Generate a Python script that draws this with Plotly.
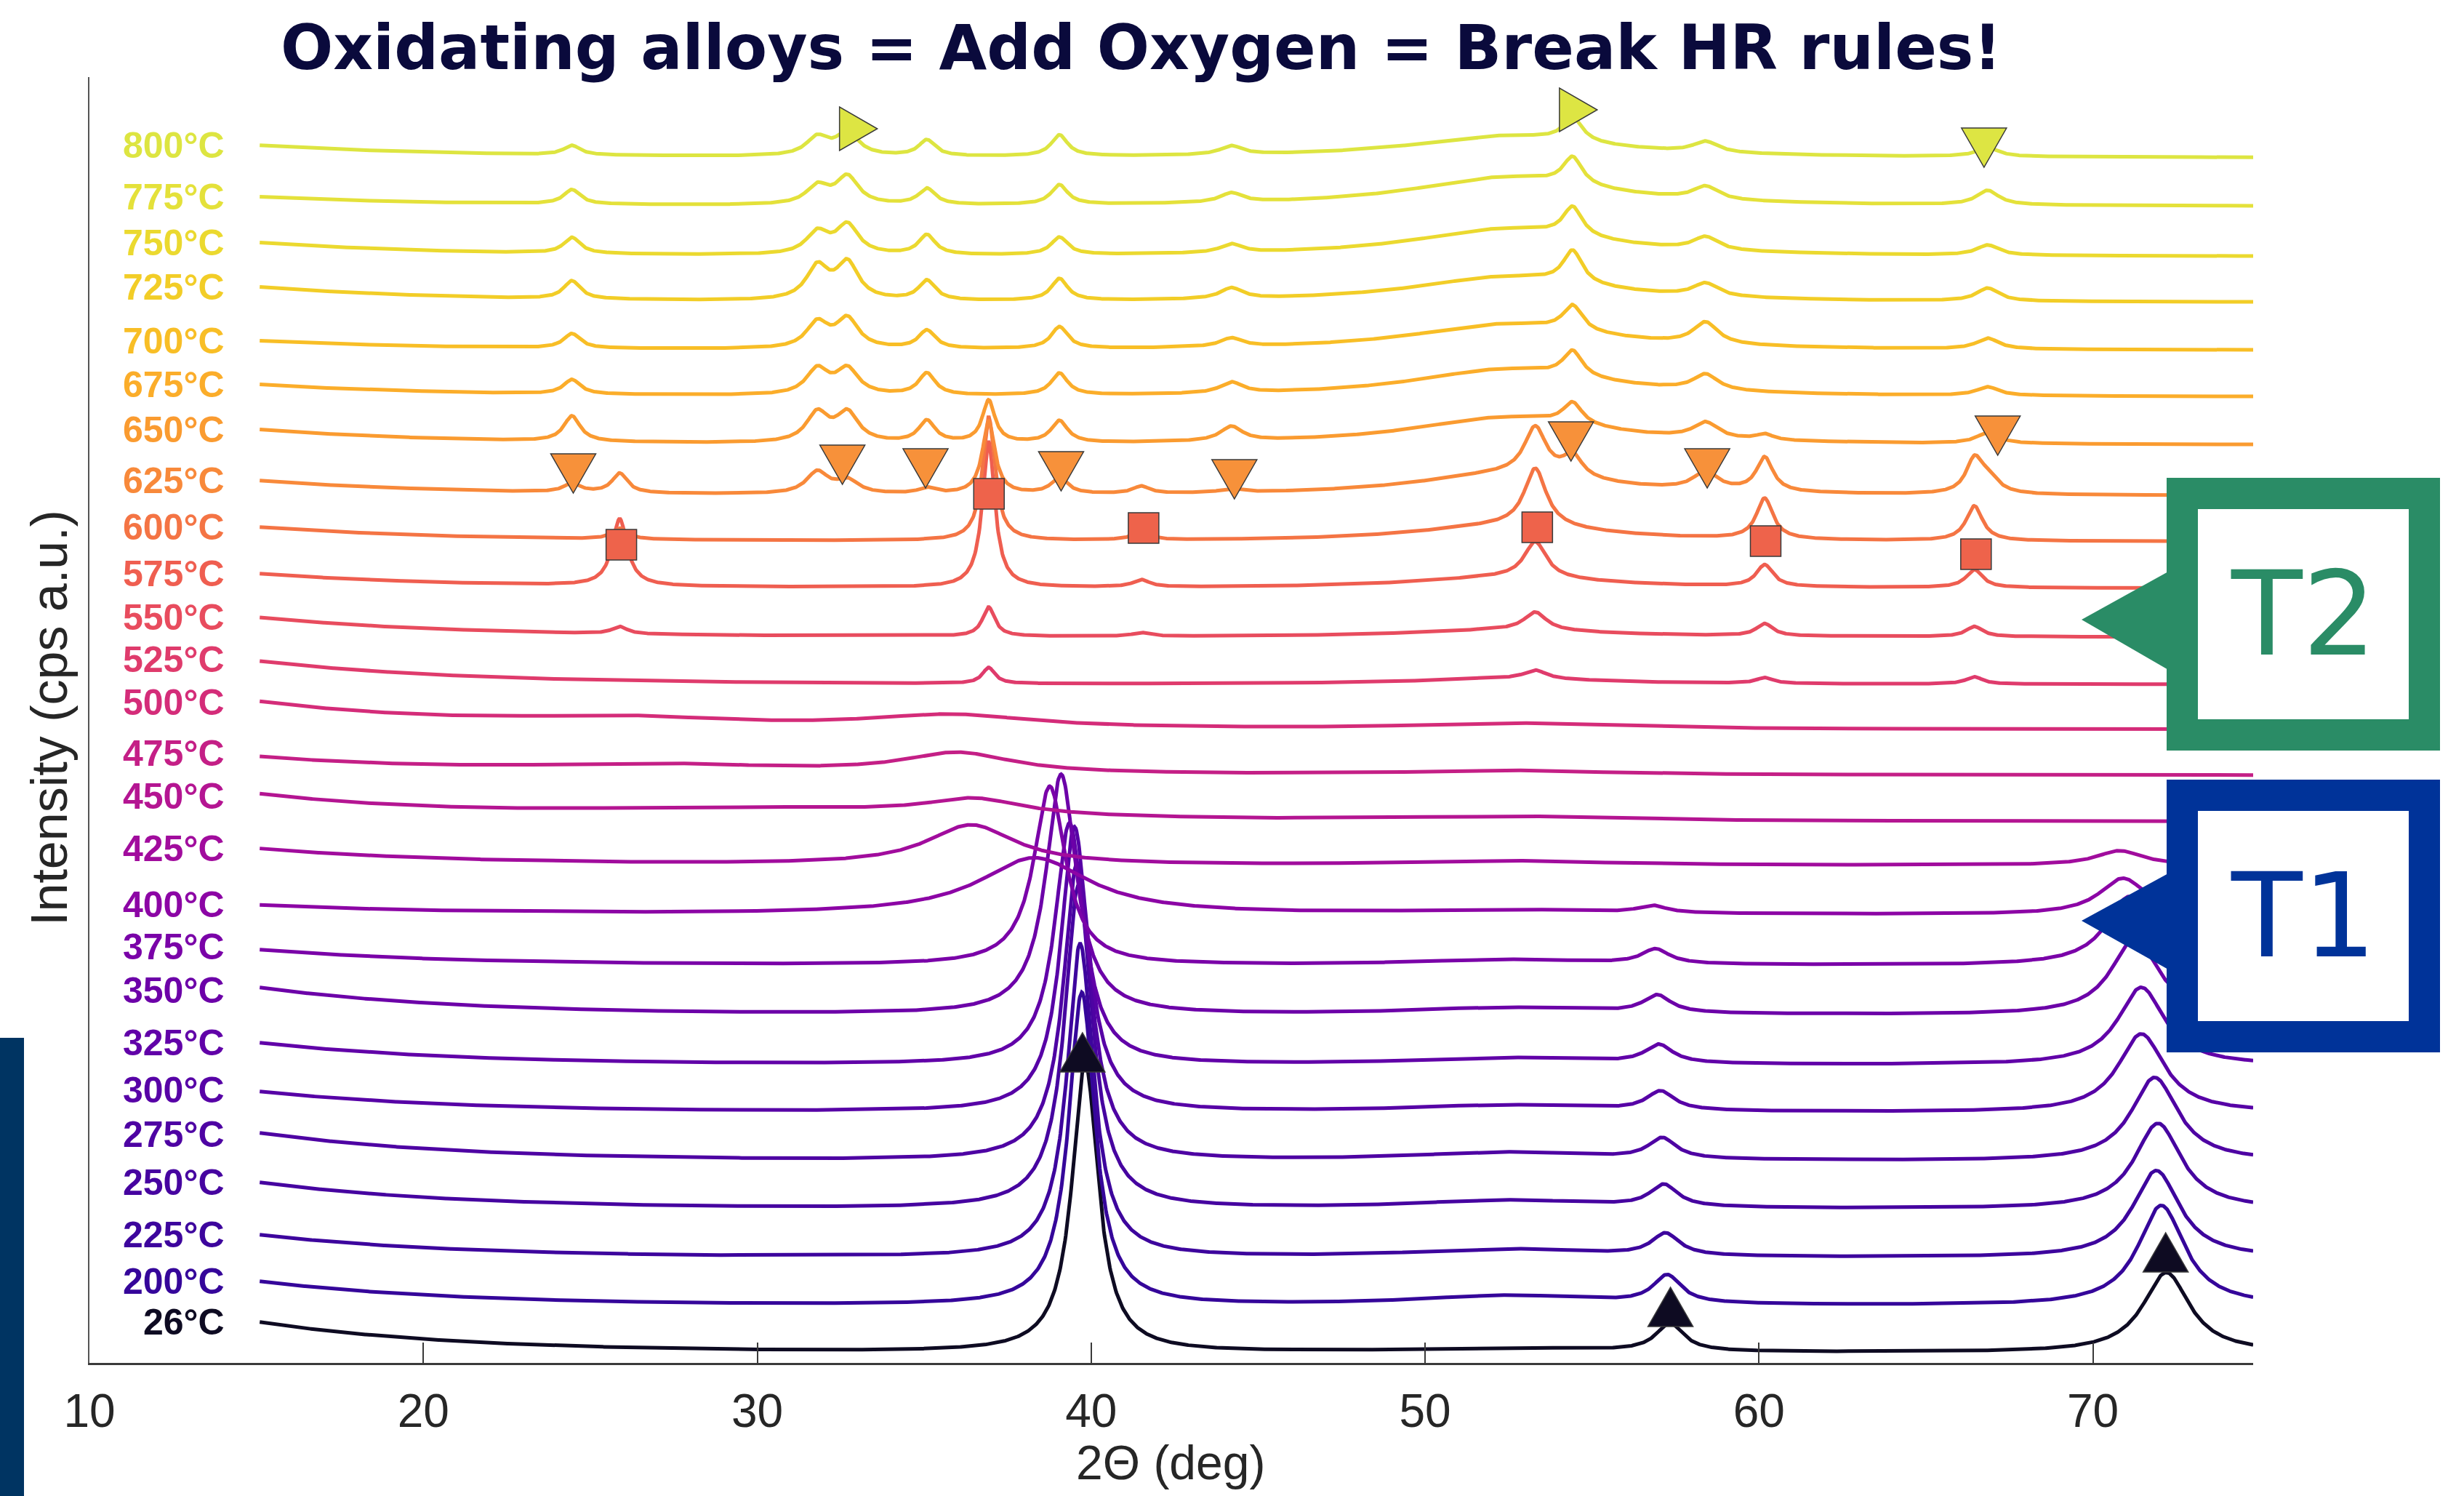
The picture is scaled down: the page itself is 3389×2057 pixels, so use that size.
import numpy as np
import plotly.graph_objects as go

# ------------------------------------------------------------------ data
TEMPS = [26, 200, 225, 250, 275, 300, 325, 350, 375, 400, 425, 450, 475,
         500, 525, 550, 575, 600, 625, 650, 675, 700, 725, 750, 775, 800]
COLORS = ['#0e0b22', '#35069a', '#3d059d', '#4604a0', '#4e03a3', '#5702a6',
          '#6101a8', '#6c01a8', '#7a02a8', '#8c05a5', '#a10c9d', '#b41592',
          '#c41f86', '#d42c79', '#df3b6c', '#e84c5e', '#ef5e50', '#f47444',
          '#f8893a', '#fa9b30', '#fbad2a', '#f8be26', '#f2cd27', '#ebd92f',
          '#e4e13a', '#dde541']
# intensity (a.u.) at the low-angle start of each scan, and the flat background level
START = [56, 112, 176, 248, 316, 373, 440, 516, 568, 629, 707, 779, 832,
         908, 965, 1025, 1085, 1149, 1213, 1283, 1345, 1405, 1479, 1540, 1603, 1674]
BASE = [14, 78, 144, 211, 277, 344, 409, 478, 546, 616, 684, 744, 808,
        871, 933, 998, 1065, 1129, 1192, 1262, 1328, 1392, 1458, 1521, 1590, 1657]
# small vertical nudges of the temperature labels (pixels) where two labels crowd
LABEL_NUDGE = [0, 0, 0, 0, -2, 2, 0, -4, 4, 0, 0, -4, 4,
               -2, 2, 0, 0, 0, 0, 0, 0, 0, 0, 0, 0, 0]
# broad diffuse hump near 52.5 deg
HUMP_HGT = [6, 14, 12, 12, 12, 10, 10, 10, 8, 6, 6, 6, 6,
            8, 8, 10, 15, 22, 30, 38, 38, 36, 35, 38, 40, 30]

# T1 (metallic) reflections
M_TEMPS = [26, 200, 225, 250, 275, 300, 325, 350, 375, 400, 425]
M1_POS = [39.82, 39.72, 39.67, 39.62, 39.58, 39.50, 39.35, 39.10, 38.76, 38.90, 38.80]
M1_HGT = [398, 430, 431, 444, 409, 392, 332, 330, 246, 0, 0]
M1_FWHM = [0.95, 0.95, 0.95, 1.0, 1.0, 1.0, 1.05, 1.1, 1.15, 1.0, 1.0]
M2_POS = [57.33, 57.25, 57.20, 57.15, 57.10, 57.05, 57.00, 56.95, 56.90, 56.80, 56.80]
M2_HGT = [38, 38, 30, 30, 28, 26, 25, 24, 20, 10, 0]
M3_POS = [72.20, 72.05, 71.90, 71.95, 71.85, 71.45, 71.45, 71.25, 71.10, 70.90, 70.80]
M3_HGT = [110, 138, 120, 118, 115, 108, 107, 105, 95, 50, 20]

# broad (disordered) features in the transition range
AM_TEMP = [400, 425, 450, 450, 475, 475, 500, 500]
AM_POS = [38.3, 36.4, 36.5, 30.0, 36.0, 27.0, 35.8, 26.0]
AM_HGT = [78, 55, 22, 16, 28, 12, 18, 12]
AM_FWHM = [4.0, 3.2, 3.5, 16.0, 4.0, 10.0, 6.0, 8.0]

# T2 oxide A (squares)
OA_TEMPS = [525, 550, 575, 600, 625, 650]
OA_POS = [25.88, 36.93, 41.50, 53.30, 60.17, 66.45]
OA_FWHM = [0.55, 0.45, 0.6, 0.8, 0.6, 0.6]
OA_HGT = [[0, 22, 0, 12, 8, 10],
          [10, 40, 5, 25, 17, 14],
          [92, 200, 10, 50, 30, 25],
          [15, 170, 12, 80, 56, 48],
          [27, 100, 10, 65, 47, 44],
          [0, 58, 0, 0, 8, 0]]

# T2 oxide B (triangles)
OB_TEMPS = [625, 650, 675, 700, 725, 750, 775, 800]
OB_POS = [24.45, 31.80, 32.70, 35.08, 39.05, 44.20, 54.42, 58.40, 66.85]
OB_FWHM = [0.6, 0.8, 0.8, 0.6, 0.6, 0.8, 0.7, 0.9, 0.8]
OB_HGT = [[12, 30, 18, 8, 22, 5, 30, 25, 20],
          [35, 40, 40, 30, 30, 20, 30, 22, 15],
          [20, 35, 35, 30, 30, 15, 35, 22, 12],
          [20, 35, 40, 25, 30, 12, 35, 30, 15],
          [25, 45, 50, 27, 30, 15, 45, 18, 18],
          [22, 30, 40, 27, 24, 12, 40, 18, 14],
          [20, 25, 38, 22, 27, 13, 38, 18, 20],
          [13, 25, 32, 22, 29, 12, 33, 15, 12]]

# phase markers (2theta, intensity)
MK_BLACK_X = [39.74, 57.35, 72.18]
MK_BLACK_Y = [427, 77, 152]
MK_ORANGE_X = [24.49, 32.55, 35.04, 39.10, 44.29, 54.37, 58.45, 67.15]
MK_ORANGE_Y = [1223, 1235, 1230, 1226, 1215, 1267, 1230, 1275]
MK_SQUARE_X = [25.93, 36.94, 41.57, 53.36, 60.20, 66.50]
MK_SQUARE_Y = [1125, 1195, 1148, 1149, 1130, 1112]
MK_YEL_RIGHT_X = [33.03, 54.59]
MK_YEL_RIGHT_Y = [1697, 1723]
MK_YEL_DOWN_X = [66.74]
MK_YEL_DOWN_Y = [1671]

X_TICKS = [10, 20, 30, 40, 50, 60, 70]
TITLE = "Oxidating alloys = Add Oxygen = Break HR rules!"

# ------------------------------------------------------------------ build
X = np.round(np.arange(15.1, 74.8 + 1e-9, 0.02), 3)
TAU = 6.0


def lor(x, c, h, w):
    return h / (1.0 + ((x - c) / (w / 2.0)) ** 2)


fig = go.Figure()
annotations = []
for i, t in enumerate(TEMPS):
    y = BASE[i] + (START[i] - BASE[i]) * np.exp(-(X - X[0]) / TAU)
    y = y + lor(X, 52.5, HUMP_HGT[i], 7.0)
    if t in M_TEMPS:
        k = M_TEMPS.index(t)
        y = y + lor(X, M1_POS[k], M1_HGT[k], M1_FWHM[k])
        y = y + lor(X, M2_POS[k], M2_HGT[k], 1.0)
        y = y + lor(X, M3_POS[k], M3_HGT[k], 1.7)
    for tt, p, h, w in zip(AM_TEMP, AM_POS, AM_HGT, AM_FWHM):
        if tt == t:
            y = y + lor(X, p, h, w)
    if t in OA_TEMPS:
        k = OA_TEMPS.index(t)
        for p, h, w in zip(OA_POS, OA_HGT[k], OA_FWHM):
            y = y + lor(X, p, h, w)
    if t in OB_TEMPS:
        k = OB_TEMPS.index(t)
        for p, h, w in zip(OB_POS, OB_HGT[k], OB_FWHM):
            y = y + lor(X, p, h, w)
    fig.add_trace(go.Scatter(x=X, y=y, mode='lines', line=dict(color=COLORS[i], width=5),
                             hoverinfo='skip', showlegend=False))
    annotations.append(dict(x=float(X[0]), y=float(y[0]), xref='x', yref='y',
                            text='<b>%d°C</b>' % t, showarrow=False, xanchor='right',
                            yanchor='middle', xshift=-46, yshift=LABEL_NUDGE[i],
                            font=dict(family='Liberation Sans, Arial', size=50, color=COLORS[i])))

# ---- marker shapes (anchored to data, sized in pixels; y up)
shapes = []


def poly(pts):
    return 'M' + 'L'.join('%g,%g' % p for p in pts) + 'Z'


def add_marker(xs, ys, pts, fill):
    for xv, yv in zip(xs, ys):
        shapes.append(dict(type='path', xref='x', yref='y', xsizemode='pixel', ysizemode='pixel',
                           xanchor=xv, yanchor=yv, path=poly(pts), fillcolor=fill,
                           line=dict(color='#3a3a3a', width=1.5), layer='above'))


TRI_UP = [(-31, -27), (31, -27), (0, 27)]
TRI_DOWN = [(-31, 27), (31, 27), (0, -27)]
TRI_RIGHT = [(-26, 30), (-26, -30), (26, 0)]
SQUARE = [(-21, -21), (21, -21), (21, 21), (-21, 21)]
add_marker(MK_BLACK_X, MK_BLACK_Y, TRI_UP, '#0e0b22')
add_marker(MK_ORANGE_X, MK_ORANGE_Y, TRI_DOWN, '#f7913a')
add_marker(MK_SQUARE_X, MK_SQUARE_Y, SQUARE, '#ee634b')
add_marker(MK_YEL_RIGHT_X, MK_YEL_RIGHT_Y, TRI_RIGHT, '#dde543')
add_marker(MK_YEL_DOWN_X, MK_YEL_DOWN_Y, TRI_DOWN, '#dde543')

# ---- page geometry (pixels)
W, H = 3389, 2057
ML, MR, MT, MB = 123, 290, 106, 183
PW, PH = W - ML - MR, H - MT - MB


def px(xp, yp):
    return ((xp - ML) / PW, (H - MB - yp) / PH)


def paper_poly(pts):
    return 'M' + 'L'.join('%.5f,%.5f' % px(*p) for p in pts) + 'Z'


def paper_shape(pts, fill):
    shapes.append(dict(type='path', xref='paper', yref='paper', path=paper_poly(pts),
                       fillcolor=fill, line=dict(width=0), layer='above'))


def callout(x0, y0, x1, y1, border, tip, base_y0, base_y1, color, label):
    paper_shape([(x0, y0), (x1, y0), (x1, y1), (x0, y1)], color)
    paper_shape([(x0 + border, y0 + border), (x1 - border, y0 + border),
                 (x1 - border, y1 - border), (x0 + border, y1 - border)], 'white')
    paper_shape([(x0 + 4, base_y0), (tip[0], tip[1]), (x0 + 4, base_y1)], color)
    cx, cy = px((x0 + x1) / 2, (y0 + y1) / 2)
    annotations.append(dict(x=cx, y=cy, xref='paper', yref='paper', text=label, showarrow=False,
                            xanchor='center', yanchor='middle',
                            font=dict(family='DejaVu Sans', size=160, color=color)))


callout(2980, 657, 3356, 1032, 43, (2863, 852), 785, 922, '#2a8c66', 'T2')
callout(2980, 1072, 3356, 1447, 43, (2863, 1266), 1200, 1334, '#003399', 'T1')

# left dark bar
paper_shape([(0, 1427), (33, 1427), (33, H), (0, H)], '#003462')

# titles
tx, ty = px(1569, 65)
annotations.append(dict(x=tx, y=ty, xref='paper', yref='paper', text='<b>%s</b>' % TITLE,
                        showarrow=False, xanchor='center', yanchor='middle',
                        font=dict(family='DejaVu Sans', size=85, color='#0a0a3c')))
yx, yy = px(68, 987)
annotations.append(dict(x=yx, y=yy, xref='paper', yref='paper', text='Intensity (cps a.u.)',
                        textangle=-90, showarrow=False, xanchor='center', yanchor='middle',
                        font=dict(family='Liberation Sans, Arial', size=70, color='#262626')))
xx, xy = px(1610, 2011)
annotations.append(dict(x=xx, y=xy, xref='paper', yref='paper', text='2Θ (deg)',
                        showarrow=False, xanchor='center', yanchor='middle',
                        font=dict(family='Liberation Sans, Arial', size=66, color='#262626')))

fig.update_layout(
    width=W, height=H,
    margin=dict(l=ML, r=MR, t=MT, b=MB, pad=0),
    paper_bgcolor='white', plot_bgcolor='white',
    showlegend=False,
    shapes=shapes, annotations=annotations,
    xaxis=dict(range=[10, 74.8], tickvals=X_TICKS, ticks='inside', ticklen=28, tickwidth=1.5,
               tickcolor='#3a3a3a', showline=True, linecolor='#3a3a3a', linewidth=3,
               showgrid=False, zeroline=False, ticklabelstandoff=8,
               tickfont=dict(family='Liberation Sans, Arial', size=64, color='#262626')),
    yaxis=dict(range=[0, PH], showline=True, linecolor='#555555', linewidth=2,
               showticklabels=False, ticks='', showgrid=False, zeroline=False),
)

fig.write_html('out.html', config={'displayModeBar': False},
               post_script="document.body.style.margin='0';document.body.style.overflow='hidden';")
